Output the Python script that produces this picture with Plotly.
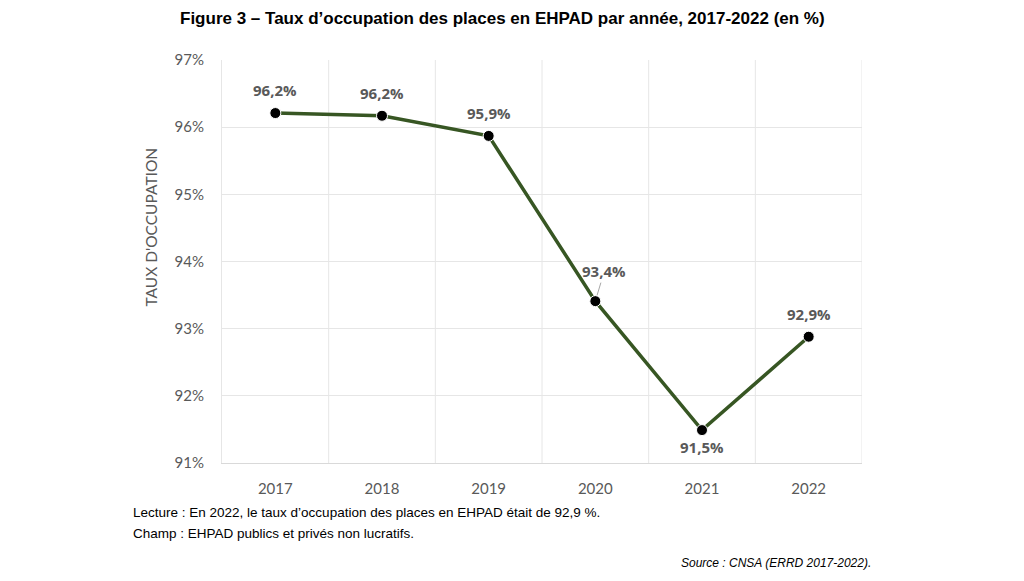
import plotly.graph_objects as go

years = ["2017", "2018", "2019", "2020", "2021", "2022"]
rates = [96.21, 96.17, 95.87, 93.41, 91.49, 92.88]
labels = ["96,2%", "96,2%", "95,9%", "93,4%", "91,5%", "92,9%"]
y_ticks = [91, 92, 93, 94, 95, 96, 97]
y_tick_text = ["91%", "92%", "93%", "94%", "95%", "96%", "97%"]

xs = list(range(len(years)))

fig = go.Figure()
fig.add_trace(go.Scatter(
    x=xs, y=rates, mode="lines+markers",
    line=dict(color="#375623", width=3.5),
    marker=dict(color="black", size=11, line=dict(color="white", width=1)),
    hoverinfo="skip", showlegend=False,
))

LABEL_FONT = dict(family="Open Sans", size=15, color="#595959")
label_shift = [23, 23, 23, 0, -17, 23]
for i, (xv, yv, lab) in enumerate(zip(xs, rates, labels)):
    if i == 3:
        fig.add_annotation(x=xv, y=yv, text="<b>" + lab + "</b>", showarrow=True,
                           arrowhead=0, arrowwidth=1, arrowcolor="#a6a6a6",
                           ax=9, ay=-30, standoff=6, font=LABEL_FONT)
    else:
        fig.add_annotation(x=xv, y=yv, text="<b>" + lab + "</b>", showarrow=False,
                           yshift=label_shift[i], font=LABEL_FONT)

fig.update_xaxes(
    range=[-0.5, len(years) - 0.5],
    tickmode="array", tickvals=xs, ticktext=years,
    showgrid=False, zeroline=False,
    showline=True, linecolor="#d9d9d9", linewidth=1,
    tickfont=dict(family="Lato", size=15, color="#595959"),
    ticklabelstandoff=12,
    fixedrange=True,
)
for b in [0.5, 1.5, 2.5, 3.5, 4.5, 5.5]:
    fig.add_shape(type="line", xref="x", yref="paper", x0=b, x1=b, y0=0, y1=1,
                  line=dict(color="#e6e6e6", width=1), layer="below")

fig.update_yaxes(
    range=[91, 97],
    tickmode="array", tickvals=y_ticks, ticktext=y_tick_text,
    showgrid=True, gridcolor="#e6e6e6", gridwidth=1,
    zeroline=False, showline=True, linecolor="#e6e6e6",
    tickfont=dict(family="Lato", size=15, color="#595959"),
    ticklabelstandoff=14,
    fixedrange=True,
)

fig.add_annotation(text="TAUX D'OCCUPATION", xref="paper", yref="paper",
                   x=-0.1105, y=0.585, textangle=-90, showarrow=False,
                   xanchor="center", yanchor="middle",
                   font=dict(family="Lato", size=15.5, color="#595959"))

NARROW = "Liberation Sans Narrow, Liberation Sans"
fig.add_annotation(text="<b>Figure 3 – Taux d’occupation des places en EHPAD par année, 2017-2022 (en %)</b>",
                   xref="paper", yref="paper", x=0.4375, y=1.0, yshift=42,
                   showarrow=False, xanchor="center", yanchor="middle",
                   font=dict(family=NARROW, size=17, color="black"))

fig.add_annotation(text="Lecture : En 2022, le taux d’occupation des places en EHPAD était de 92,9 %.",
                   xref="paper", yref="paper", x=-0.1425, y=0, yshift=-49,
                   xanchor="left", yanchor="middle", showarrow=False,
                   font=dict(family=NARROW, size=13.5, color="black"))
fig.add_annotation(text="Champ : EHPAD publics et privés non lucratifs.",
                   xref="paper", yref="paper", x=-0.1425, y=0, yshift=-70,
                   xanchor="left", yanchor="middle", showarrow=False,
                   font=dict(family=NARROW, size=13.5, color="black"))
fig.add_annotation(text="<i>Source : CNSA (ERRD 2017-2022).</i>",
                   xref="paper", yref="paper", x=1.017, y=0, yshift=-100,
                   xanchor="right", yanchor="middle", showarrow=False,
                   font=dict(family=NARROW, size=12, color="black"))

# page body has an 8px margin, so the figure is drawn at (8, 8)
fig.update_layout(
    width=1016, height=573,
    margin=dict(l=214, r=162, t=52, b=118),
    paper_bgcolor="white", plot_bgcolor="white",
    showlegend=False,
)

fig.write_html("out.html", config={"displayModeBar": False})
